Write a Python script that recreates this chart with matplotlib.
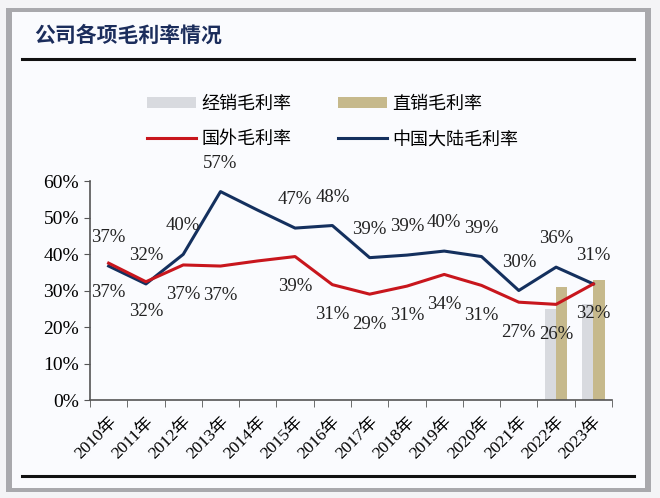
import matplotlib
matplotlib.use("Agg")
import matplotlib.pyplot as plt
import matplotlib.patches as patches
from matplotlib.lines import Line2D
import numpy as np

# ============= DATA =============
years = ['2010年', '2011年', '2012年', '2013年', '2014年', '2015年', '2016年',
         '2017年', '2018年', '2019年', '2020年', '2021年', '2022年', '2023年']
overseas = [37.5, 32.4, 37.0, 36.7, 38.1, 39.3, 31.6, 29.0, 31.2, 34.4, 31.4, 26.8, 26.2, 31.8]
mainland = [36.7, 31.8, 39.9, 57.1, 52.0, 47.1, 47.8, 39.0, 39.7, 40.8, 39.3, 30.0, 36.4, 31.8]
overseas_labels = ['37%', '32%', '37%', '37%', '', '39%', '31%', '29%', '31%', '34%', '31%', '27%', '26%', '32%']
mainland_labels = ['37%', '32%', '40%', '57%', '', '47%', '48%', '39%', '39%', '40%', '39%', '30%', '36%', '31%']
bar_years = ['2022年', '2023年']
distrib = [24.8, 26.3]   # 经销毛利率
direct = [30.9, 33.0]    # 直销毛利率

RED = '#c8161d'
NAVY = '#14305e'
GRAY = '#d8dadf'
TAN = '#c6b98c'

serif = ['Liberation Serif', 'Noto Sans CJK SC']
cjk = ['Noto Sans CJK SC', 'DejaVu Sans']

# ============= FIGURE / CARD =============
fig = plt.figure(figsize=(6.6, 4.98), dpi=100)
fig.patch.set_facecolor('#f4f4f6')
W, H = 660, 498

def fx(px):
    return px / W

def fy(py):
    return 1 - py / H

# shadow + card
fig.patches.append(patches.Rectangle((fx(6), fy(492)), fx(651) - fx(6), fy(8) - fy(492),
                                     transform=fig.transFigure, facecolor='#a9a9ad',
                                     edgecolor='none', zorder=-3))
fig.patches.append(patches.Rectangle((fx(12), fy(488)), fx(645) - fx(12), fy(12) - fy(488),
                                     transform=fig.transFigure, facecolor='#fafbfe',
                                     edgecolor='none', zorder=-2))
fig.lines.append(Line2D([fx(22), fx(634)], [fy(59), fy(59)], transform=fig.transFigure,
                        color='#111111', lw=2.2))
fig.lines.append(Line2D([fx(22), fx(634)], [fy(476), fy(476)], transform=fig.transFigure,
                        color='#111111', lw=2.2))
fig.text(fx(34), fy(35), '公司各项毛利率情况', family=cjk, fontsize=15, fontweight='bold',
         color='#1b2d5c', ha='left', va='center')

# ============= AXES =============
ax = fig.add_axes([fx(90), fy(400), fx(612) - fx(90), fy(181) - fy(400)])
ax.set_facecolor('none')
x = np.arange(len(years))
ax.set_xlim(-0.5, len(years) - 0.5)
ax.set_ylim(0, 60)

# bars (only 2022, 2023)
bx = np.array([years.index(y) for y in bar_years])
bw = 0.3
ax.bar(bx - bw / 2, distrib, bw, color=GRAY, zorder=1)
ax.bar(bx + bw / 2, direct, bw, color=TAN, zorder=1)

ax.plot(x, overseas, color=RED, lw=2.2, zorder=3)
ax.plot(x, mainland, color=NAVY, lw=2.2, zorder=2)

for i in range(len(years)):
    if mainland_labels[i]:
        ax.annotate(mainland_labels[i], (x[i], mainland[i]), xytext=(0, 20.5),
                    textcoords='offset points', ha='center', va='center',
                    family=serif, fontsize=13.5, color='#222222')
    if overseas_labels[i]:
        ax.annotate(overseas_labels[i], (x[i], overseas[i]), xytext=(0, -21.5),
                    textcoords='offset points', ha='center', va='center',
                    family=serif, fontsize=13.5, color='#222222')

for s in ['top', 'right']:
    ax.spines[s].set_visible(False)
for s in ['left', 'bottom']:
    ax.spines[s].set_color('#555555')
    ax.spines[s].set_linewidth(1.2)

ax.set_yticks(np.arange(0, 61, 10))
ax.set_yticklabels([f'{v}%' for v in range(0, 61, 10)], family=serif, fontsize=14)
ax.tick_params(axis='y', direction='out', length=4, color='#555555', pad=4)

ax.set_xticks(x)
ax.set_xticklabels(years, family=serif, fontsize=12.5, rotation=45, ha='right',
                   rotation_mode='anchor')
ax.tick_params(axis='x', which='major', length=0, pad=10)
ax.set_xticks(np.arange(-0.5, len(years), 1), minor=True)
ax.tick_params(axis='x', which='minor', direction='out', length=5, color='#555555')

# ============= LEGEND =============
# column-wise fill: gray / red in col 1, tan / navy in col 2
handles = [patches.Patch(facecolor=GRAY, edgecolor='none'),
           Line2D([], [], color=RED, lw=2.2),
           patches.Patch(facecolor=TAN, edgecolor='none'),
           Line2D([], [], color=NAVY, lw=2.2)]
labels = ['经销毛利率', '国外毛利率', '直销毛利率', '中国大陆毛利率']
fig.legend(handles, labels, loc='upper left', bbox_to_anchor=(fx(147), fy(95)), ncol=2,
           frameon=False, prop={'family': cjk, 'size': 13}, handlelength=2.7,
           handleheight=0.55, columnspacing=2.6, labelspacing=0.95, handletextpad=0.3,
           borderpad=0, borderaxespad=0)

fig.savefig('out.png', dpi=100, facecolor=fig.get_facecolor())
